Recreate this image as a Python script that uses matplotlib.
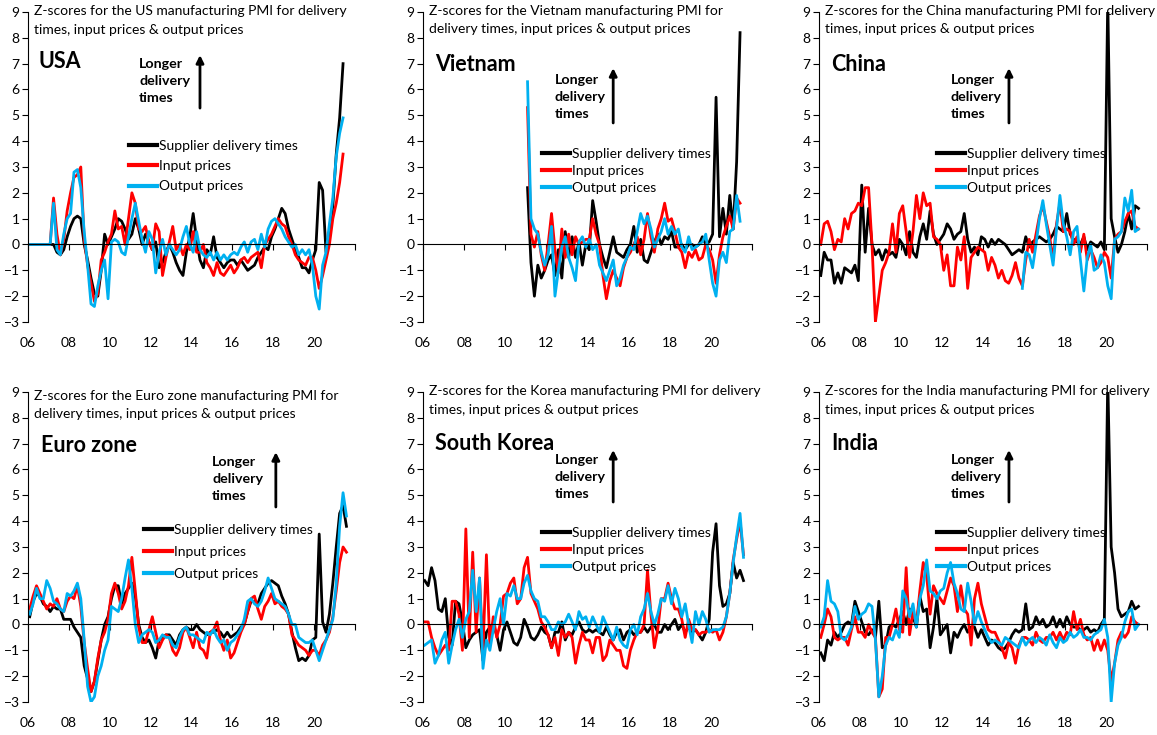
import pandas as pd
import matplotlib.pyplot as plt

plt.rcParams['font.family'] = ['Lato', 'DejaVu Sans']

# bi-monthly readings of the z-scores (Feb, Apr, Jun, Aug, Oct, Dec per row)
us_start = '2006-02'
us_delivery = [
    0, 0, 0, 0, 0, 0,
    0, 0.0, -0.3, -0.4, -0.2, 0.3,
    0.7, 1.0, 1.1, 1.0, 0.0, -0.6,
    -1.3, -1.9, -2.0, -1.0, 0.4, 0.0,
    0.3, 0.6, 1.0, 0.9, 0.6, 0.2,
    0.4, 1.0, 0.6, 0.0, 0.4, 0.1,
    -0.2, 0.1, -0.9, -0.7, -0.3, 0.0,
    -0.3, -0.7, -1.0, -1.2, -0.3, 0.3,
    1.2, 0.2, -0.6, -0.9, -0.2, -0.4,
    0.3, -0.5, -0.7, -0.9, -0.7, -0.6,
    -0.6, -0.8, -0.6, -0.8, -1.0, -0.9,
    -0.8, -0.5, -0.3, -0.1, -0.2, 0.3,
    0.6, 1.0, 1.4, 1.2, 0.6, 0.2,
    -0.2, -0.5, -0.9, -0.9, -1.1, -0.6,
    -0.2, 2.4, 2.1, -0.3, 0.5, 1.5,
    3.5, 4.9, 7.0]
us_input = [
    0, 0, 0, 0, 0, 0,
    0, 1.8, 0.4, -0.4, 0.2, 1.3,
    2.0, 2.6, 2.7, 3.0, 0.2, -0.8,
    -1.5, -2.2, -1.9, -0.6, -0.3, 0.1,
    0.4, 1.3, 0.6, 0.7, 0.0, 1.0,
    2.0, 1.6, 0.6, 0.5, 0.7, 0.1,
    -0.2, 0.8, 0.5, -1.2, -0.5, 0.1,
    0.7, -0.2, 0.0, -0.4, 0.0, -0.2,
    0.5, -0.3, -0.3, 0.0, -0.7, -0.9,
    -1.2, -0.7, -1.1, -1.2, -1.0, -0.8,
    -1.1, -0.9, -0.6, -0.5, -0.7, -0.5,
    -0.4, -0.3, -0.9, 0.0, 0.2, 0.4,
    0.7, 1.0, 0.8, 0.7, 0.3, 0.0,
    -0.4, -0.6, -0.7, -0.8, -0.5, -0.5,
    -1.0, -1.7, -1.2, -0.6, 0.0, 1.0,
    1.6, 2.4, 3.5]
us_output = [
    0, 0, 0, 0, 0, 0,
    0, 1.6, -0.2, -0.4, 0.4, 1.0,
    1.2, 2.8, 2.9, 2.2, 0.5, -0.8,
    -2.3, -2.4, -1.6, -1.0, -0.6, -2.1,
    0.1, 0.2, 0.1, -0.3, -0.4, 0.3,
    1.0, 1.6, 0.9, 0.2, -0.3, 0.5,
    0.2, -1.1, -0.3, 0.2, -0.4, 0.0,
    -0.2, -0.4, -0.2, 0.3, 0.7, 0.0,
    -0.3, 0.5, -0.2, -0.4, -0.5, -0.3,
    -0.6, -0.3, -0.6, -0.4, -0.6, -0.4,
    -0.3, -0.4, -0.1, 0.1, -0.3, 0.1,
    0.2, -0.2, 0.4, -0.1, 0.6, 0.9,
    1.0, 0.8, 0.6, 0.3, 0.1, -0.1,
    0.0, -0.4, -0.2, -0.4, -0.2, -0.8,
    -2.0, -2.5, -0.8, -0.3, 0.8, 1.8,
    3.4, 4.3, 4.9]

vn_start = '2011-02'
vn_delivery = [
    2.2, -0.7, -2.0, -0.8, -1.3, -1.0,
    -0.6, -0.4, -1.2, -0.2, -1.3, 0.5,
    -0.5, 0.3, -0.5, 0.1, -0.8, 0.0,
    -0.2, 1.7, 0.9, 0.0, -0.5, -0.9,
    -0.3, 0.3, -0.3, -0.4, -0.5, -0.2,
    0.0, 0.7, -0.3, 0.2, -0.6, -0.7,
    -0.3, 0.1, 0.4, 0.0, 0.3, 0.2,
    0.5, -0.1, -0.1, 0.0, -0.2, 0.0,
    0.0, -0.1, 0.0, 0.3, 0.0, 0.1,
    0.4, 5.7, 0.3, 1.4, 0.4, 1.9,
    0.6, 3.2, 8.2]
vn_input = [
    5.3, 0.4, -0.1, 0.5, -0.4, -1.0,
    0.0, 1.2, -0.2, -1.1, 0.6, -0.5,
    0.4, -0.4, 0.3, 0.0, 0.1, 0.2,
    0.2, 1.0, 0.4, 0.0, -1.2, -2.1,
    -1.4, -1.0, -1.3, -1.6, -0.9, -0.5,
    -0.3, 0.0, 0.3, -0.4, 0.2, 1.2,
    0.3, -0.3, 0.6, 1.0, 1.6, 0.9,
    1.0, 0.5, -0.1, -0.3, -0.9, -0.3,
    -0.5, -0.2, -0.6, -0.5, 0.0, -0.2,
    -0.6, -1.5, -0.4, 0.3, 0.7, 1.1,
    0.6, 1.8, 1.6]
vn_output = [
    6.3, 1.0, 0.6, 0.4, -0.3, -0.8,
    -0.4, 0.7, -2.0, -1.0, -0.1, 0.3,
    -0.5, -0.9, -1.4, 0.1, 0.3, -0.1,
    0.2, -0.2, 0.0, -0.8, -1.1, -1.4,
    -1.0, -0.6, -1.6, -1.3, -0.8, -0.5,
    -0.1, -0.2, 0.5, 1.2, 0.8, 1.1,
    0.6, -0.1, 0.2, 0.5, 1.0, 0.4,
    0.7, 0.4, 0.6, -0.1, -0.3, 0.3,
    -0.2, -0.1, 0.0, 0.1, 0.4, -0.6,
    -1.5, -2.0, -0.6, -0.3, -0.7, 0.5,
    0.6, 1.9, 0.9]

cn_start = '2006-02'
cn_output_start = '2015-12'
cn_delivery = [
    -1.2, -0.3, -0.6, -0.6, -1.5, -1.1,
    -1.5, -0.9, -1.0, -1.1, -0.8, -1.4,
    2.3, -0.3, 1.4, 0.0, -0.4, -0.2,
    -0.6, -0.2, -0.4, -0.3, -0.5, 0.2,
    0.0, -0.4, 0.5, -0.3, -0.5, 0.3,
    0.8, 0.2, 1.3, 0.4, 0.0, 0.2,
    0.4, 0.8, 0.6, 0.2, 0.4, 0.5,
    1.2, 0.2, -0.3, -0.1, -0.4, 0.3,
    0.2, -0.1, 0.2, 0.0, 0.2, 0.1,
    0.0, -0.2, -0.4, -0.3, -0.2, -0.3,
    0.3, -0.1, 0.1, 0.2, 0.3, 0.2,
    0.1, 0.2, 0.4, 0.7, 0.6, 0.5,
    1.2, 0.4, 0.2, 0.1, 0.0, 0.3,
    -0.2, 0.1, 0.0, -0.1, 0.1, -0.2,
    9.5, 1.0, 0.3, -0.3, 0.0, 0.5,
    1.2, 0.6, 1.5, 1.4]
cn_input = [
    0.0, 0.8, 0.9, 0.5, -0.2, 0.2,
    0.1, 1.0, 0.6, 1.2, 1.3, 1.6,
    1.5, 2.2, 2.2, 0.0, -3.0, -2.0,
    -1.0, -0.7, -0.3, 0.8, -0.3, 1.2,
    1.5, 0.5, -0.5, 0.5, 1.9, 1.0,
    2.0, 1.5, 1.6, 0.3, 0.2, 0.0,
    -1.0, -0.4, -1.6, -1.6, -0.1, -0.6,
    0.3, -1.7, -0.5, -0.3, -0.1, -0.2,
    -0.3, -1.0, -0.5, -0.8, -1.3, -1.0,
    -1.4, -1.5, -1.2, -0.7, -1.3, -1.6,
    -0.6, 0.2, -0.3, 0.4, 1.1, 1.5,
    0.9, 0.3, -0.6, 0.8, 1.6, 0.5,
    0.6, 0.5, 0.0, 0.3, -0.3, 0.4,
    -0.6, -0.2, -0.5, -0.9, -0.7, -0.3,
    -0.5, -1.3, 0.2, 0.4, 0.5, 0.9,
    1.2, 1.3, 0.7, 0.6]
cn_output = [
    -1.7,
    -0.3, -0.4, -0.9, 0.0, 1.0, 1.7,
    0.8, 0.0, -0.8, 0.6, 1.9, 0.8,
    0.3, -0.4, 0.5, 0.7, -0.6, -1.8,
    -0.5, 0.0, -1.0, -0.9, -0.4, -0.7,
    -1.6, -2.1, 0.2, 0.3, 0.5, 1.8,
    1.3, 2.1, 0.5, 0.6]

ez_start = '2006-02'
ez_delivery = [
    0.3, 0.9, 1.2, 1.1, 0.8, 0.7,
    0.5, 0.7, 0.6, 0.6, 0.2, 0.2,
    0.2, -0.1, -0.3, -0.5, -1.6, -2.1,
    -2.6, -2.2, -1.4, -0.6, 0.0, 0.3,
    1.0, 1.5, 1.5, 0.8, 1.2, 1.4,
    1.6, 1.1, 0.0, -0.5, -0.7, -0.6,
    -0.9, -1.3, -0.6, -0.5, -0.4, -0.4,
    -0.6, -0.8, -0.4, -0.2, -0.1, -0.2,
    -0.2, 0.0, -0.2, -0.3, -0.4, -0.3,
    -0.3, -0.2, -0.3, -0.5, -0.3, -0.5,
    -0.4, -0.3, -0.1, 0.0, 0.5, 0.9,
    0.9, 0.8, 1.2, 1.4, 1.6, 1.7,
    1.6, 1.5, 1.1, 0.8, 0.4, -0.3,
    -0.9, -1.4, -1.3, -1.4, -1.2, -0.6,
    -0.5, 3.5, 0.1, -0.3, 0.4, 1.6,
    3.0, 4.3, 4.6, 3.8]
ez_input = [
    0.6, 1.1, 1.5, 1.2, 0.9, 0.6,
    0.8, 0.7, 1.0, 0.6, 0.5, 0.9,
    1.1, 1.0, 1.5, 0.7, -0.7, -1.7,
    -2.6, -2.2, -1.3, -0.6, -0.3, 0.2,
    1.2, 1.6, 1.2, 0.6, 0.9, 1.5,
    2.6, 1.3, -0.1, -0.7, -0.7, -0.2,
    0.3, -0.3, -0.9, -0.6, -0.4, -0.5,
    -1.0, -1.2, -0.9, -0.3, -0.1, -0.5,
    -0.9, -0.3, -0.9, -1.0, -1.3, -0.3,
    -0.2, 0.1, -0.6, -1.0, -0.6, -1.3,
    -1.1, -0.7, -0.3, 0.0, 0.5, 1.0,
    1.1, 0.6, 0.2, 0.7, 0.9, 1.2,
    0.8, 0.9, 0.7, 0.6, 0.4, -0.4,
    -0.6, -0.8, -0.9, -1.0, -1.2, -1.0,
    -1.0, -1.2, -0.8, -0.6, -0.3, 0.3,
    1.3, 2.4, 3.0, 2.8]
ez_output = [
    0.4, 0.8, 1.4, 1.0, 1.0, 1.7,
    1.4, 0.9, 0.8, 0.6, 0.5, 1.2,
    1.1, 1.3, 1.6, 1.0, -0.6, -2.4,
    -3.0, -2.8, -2.0, -1.6, -1.0, -0.6,
    0.7, 0.6, 0.5, 1.0, 1.8, 2.5,
    1.4, 0.0, -0.7, -0.4, -0.3, -0.2,
    -0.3, -0.7, -0.6, -0.4, -0.5, -0.5,
    -0.8, -0.9, -0.5, -0.2, -0.1, -0.4,
    -0.4, -0.5, -0.6, -0.7, -0.3, -0.4,
    -0.2, -0.5, -0.7, -0.6, -1.0, -0.7,
    -0.6, -0.4, -0.2, 0.2, 0.9, 1.0,
    0.8, 0.7, 0.9, 1.3, 1.8, 1.4,
    1.0, 0.9, 0.8, 0.7, 0.4, 0.0,
    0.0, -0.5, -0.6, -0.7, -0.7, -0.6,
    -1.0, -1.4, -1.0, -0.6, -0.2, 0.2,
    1.6, 3.8, 5.1, 4.2]

kr_start = '2006-02'
kr_delivery = [
    1.7, 1.5, 2.2, 1.7, 0.6, 0.5,
    1.0, -0.5, -0.8, 0.9, 0.8, 0.1,
    -0.9, -0.6, -0.4, -0.3, -0.2, -1.4,
    -0.3, -0.1, 0.0, -0.4, -1.0, -0.2,
    0.1, -0.3, -0.7, -0.8, -0.5, 0.2,
    -0.1, -0.5, -0.6, -0.4, -0.1, -0.3,
    -0.4, -0.9, -0.3, -0.3, 0.1, -0.6,
    -0.3, -0.4, -0.1, 0.1, -0.2, -0.3,
    -0.2, -0.3, -0.2, -0.3, -0.4, -0.1,
    -0.4, -0.6, -0.3, -0.2, -0.6, -0.3,
    -0.2, -0.4, -0.3, -0.3, -0.1, -0.3,
    -0.1, 0.0, -0.3, -0.3, 0.0, -0.2,
    0.0, 0.2, -0.2, 0.0, -0.3, -0.1,
    -0.3, -0.2, -0.4, -0.6, -0.3, 0.2,
    2.8, 3.9, 1.5, 0.7, 0.8, 1.2,
    2.4, 1.8, 2.1, 1.7]
kr_input = [
    0.1, 0.1, -0.5, -0.9, -1.2, -1.0,
    -0.8, -1.0, 0.9, 0.9, 0.4, -1.0,
    3.7, -0.5, 2.8, -0.3, 1.8, -1.0,
    2.7, -0.8, 0.3, -0.5, 0.0, 1.1,
    1.2, 1.6, 1.8, 0.8, 1.0, 2.2,
    2.6, 1.2, 0.9, 0.6, 0.1, -0.1,
    -0.4, -0.9, -0.5, -1.2, -0.2, -0.5,
    -0.3, -0.5, -1.5, -0.8, -0.3, -0.6,
    -0.6, -1.1, -0.5, -0.5, -1.4, -1.2,
    -0.6, -0.8, -1.0, -1.0, -1.6, -1.7,
    -1.0, -0.6, -0.3, -0.3, 0.0, 2.1,
    0.4, -0.9, -0.2, 1.0, 1.0, 1.6,
    1.0, 0.6, 0.6, 0.2, -0.5, 0.2,
    -0.2, -0.2, -0.4, -0.3, -0.3, -0.2,
    -0.3, -0.2, -0.6, -0.3, 0.3, 1.2,
    2.5, 3.3, 4.0, 2.7]
kr_output = [
    -0.8, -0.7, -0.6, -1.5, -1.2, -0.6,
    -0.3, -1.5, -0.8, -0.2, 0.2, -0.5,
    0.2, 0.5, 2.1, 0.5, 1.8, -1.7,
    -0.6, -1.0, -0.2, 0.5, 1.0, 0.0,
    1.2, 1.1, 1.5, 1.0, 1.0, 1.6,
    1.9, 1.3, 1.0, 0.9, 0.3, 0.3,
    0.1, -0.2, -0.2, 0.1, 0.0, 0.1,
    0.4, 0.1, -0.2, 0.5, 0.2, 0.3,
    -0.1, 0.3, 0.0, -0.3, 0.3, 0.0,
    -0.3, -0.6, -0.1, -0.6, -0.8, -0.9,
    -0.2, 0.0, -0.4, 0.3, 0.6, 1.2,
    0.5, 0.0, 0.4, 1.0, 0.9, 1.5,
    0.8, 1.4, 1.0, 0.3, 0.8, 0.0,
    -0.7, 0.5, 0.0, 0.5, 0.2, -0.3,
    -0.2, -0.2, -0.2, -0.1, 0.3, 1.2,
    2.4, 3.4, 4.3, 2.6]

in_start = '2006-02'
in_delivery = [
    -1.1, -1.4, -0.6, -0.8, -0.3, -0.5,
    -0.3, 0.0, 0.1, 0.0, 0.9, 0.5,
    0.1, -0.3, -0.4, -0.2, -0.5, 0.9,
    -0.9, -0.8, -0.1, 0.0, -0.1, 0.2,
    0.5, 0.0, 0.6, 0.3, -0.1, 1.1,
    0.5, 0.6, -0.9, -0.1, 1.0, -0.4,
    -0.2, 0.0, -1.1, -0.3, -0.5, -0.2,
    0.0, -0.3, -0.1, -0.1, -0.5, -0.2,
    -0.5, -0.8, -0.6, -0.7, -0.9, -1.0,
    -0.9, -0.7, -0.4, -0.2, -0.3, -0.2,
    0.8, -0.2, -0.1, 0.3, 0.0, 0.2,
    -0.1, 0.0, 0.3, -0.1, 0.2, -0.1,
    0.3, 0.0, -0.1, -0.1, -0.2, -0.2,
    -0.1, -0.3, -0.2, -0.3, 0.0, 0.2,
    9.5, 3.0, 2.0, 0.6, 0.3, 0.4,
    0.5, 0.9, 0.6, 0.7]
in_input = [
    -0.5, 0.0, 0.6, 0.3, -0.5, -0.6,
    -0.5, -0.5, -0.8, -0.2, 0.3, -0.3,
    -0.3, -0.5, 0.0, -0.3, -0.5, -2.8,
    -2.5, -0.5, -0.5, 0.0, 0.6, -0.2,
    -0.3, 2.2, -0.4, 0.5, 0.0, 1.3,
    2.4, 1.9, 0.4, 1.5, 1.2, 1.0,
    0.8, 1.3, 1.8, 1.5, 0.5, 1.5,
    0.6, 0.4, -0.8, 1.0, 1.6, 0.8,
    0.3, -0.2, -0.3, -0.3, -0.6, -0.9,
    -1.3, -0.7, -0.9, -1.5, -0.8, -0.5,
    -0.5, -0.6, -0.8, -0.3, -0.6, -0.7,
    -0.5, -0.5, -0.3, -0.6, -0.3, -0.6,
    -0.3, -0.4, 0.5, -0.2, 0.2, -0.4,
    -0.6, -0.5, -1.0, -0.6, -1.0, -0.6,
    -1.0, -2.2, -1.5, -0.6, -0.3, -0.5,
    -0.3, 0.3, 0.1, 0.0]
in_output = [
    -0.1, 0.3, 1.7, 0.9, 0.8, 0.5,
    -0.5, -0.6, -0.4, -0.1, 0.7, 0.2,
    0.4, 0.5, 0.8, 0.7, -0.6, -2.8,
    -2.0, -0.8, -0.5, -0.6, -0.2, -0.5,
    1.3, 1.0, 0.3, 0.8, -0.1, 1.0,
    1.5, 2.5, 1.3, 1.2, 1.0, 1.3,
    1.4, 2.0, 2.4, 1.6, 1.2, 0.6,
    0.5, 1.6, 0.9, 0.0, 0.5, 0.1,
    -0.2, -0.5, -0.7, -0.6, -0.7, -0.8,
    -0.5, -0.6, -0.7, -0.8, -0.9, -0.5,
    -0.8, -0.6, -0.5, -0.7, -0.5, -0.6,
    -0.8, -0.4, -0.7, -0.9, -0.5, -0.7,
    -0.6, -0.3, -0.5, -0.4, -0.2, -0.5,
    -0.5, -0.6, -0.4, -0.3, -0.2, 0.2,
    -0.5, -3.0, -1.5, -0.8, -0.5, 0.1,
    0.5, 0.6, -0.2, 0.0]

labels = ['Supplier delivery times', 'Input prices', 'Output prices']
colors = ['black', '#FF0000', '#00B0F0']
year_ticks = list(range(2006, 2023, 2))
year_labels = ['06', '08', '10', '12', '14', '16', '18', '20']

panels = [
    dict(name='USA', who='US',
         series=[(us_start, us_delivery), (us_start, us_input), (us_start, us_output)],
         rect=[0.0242, 0.5619, 0.2826, 0.4218], title_y=1.021, title_break=True,
         name_xy=(0.032, 0.819), note_xy=(0.34, 0.852), arrow=(0.526, 0.69, 0.861),
         leg_xy=(0.309, 0.563), leg_sp=0.59),
    dict(name='Vietnam', who='Vietnam',
         series=[(vn_start, vn_delivery), (vn_start, vn_input), (vn_start, vn_output)],
         rect=[0.3656, 0.5619, 0.2844, 0.4218], title_y=1.023, title_break=False,
         name_xy=(0.036, 0.81), note_xy=(0.401, 0.801), arrow=(0.578, 0.642, 0.819),
         leg_xy=(0.362, 0.538), leg_sp=0.37),
    dict(name='China', who='China',
         series=[(cn_start, cn_delivery), (cn_start, cn_input), (cn_output_start, cn_output)],
         rect=[0.7079, 0.5619, 0.2835, 0.4218], title_y=1.023, title_break=True,
         name_xy=(0.037, 0.81), note_xy=(0.402, 0.801), arrow=(0.579, 0.642, 0.819),
         leg_xy=(0.36, 0.538), leg_sp=0.37),
    dict(name='Euro zone', who='Euro zone',
         series=[(ez_start, ez_delivery), (ez_start, ez_input), (ez_start, ez_output)],
         rect=[0.0242, 0.0449, 0.2826, 0.4218], title_y=1.007, title_break=False,
         name_xy=(0.04, 0.806), note_xy=(0.563, 0.794), arrow=(0.758, 0.629, 0.806),
         leg_xy=(0.355, 0.551), leg_sp=0.72),
    dict(name='South Korea', who='Korea',
         series=[(kr_start, kr_delivery), (kr_start, kr_input), (kr_start, kr_output)],
         rect=[0.3656, 0.0449, 0.2844, 0.4218], title_y=1.022, title_break=True,
         name_xy=(0.036, 0.813), note_xy=(0.401, 0.801), arrow=(0.578, 0.645, 0.813),
         leg_xy=(0.362, 0.541), leg_sp=0.37),
    dict(name='India', who='India',
         series=[(in_start, in_delivery), (in_start, in_input), (in_start, in_output)],
         rect=[0.7079, 0.0449, 0.2835, 0.4218], title_y=1.022, title_break=True,
         name_xy=(0.037, 0.813), note_xy=(0.402, 0.801), arrow=(0.579, 0.645, 0.813),
         leg_xy=(0.36, 0.541), leg_sp=0.37),
]


def to_years(start, n):
    dates = pd.date_range(start, periods=n, freq='2MS')
    return dates.year + (dates.month - 1) / 12


fig = plt.figure(figsize=(11.57, 7.35), dpi=100)

for p in panels:
    ax = fig.add_axes(p['rect'])
    for (start, vals), lab, col in zip(p['series'], labels, colors):
        ax.plot(to_years(start, len(vals)), vals, color=col, lw=2.0, label=lab)

    ax.set_xlim(2006, 2022)
    ax.set_ylim(-3, 9)
    ax.set_yticks(range(-3, 10))
    ax.spines['top'].set_visible(False)
    ax.spines['right'].set_visible(False)
    ax.spines['bottom'].set_position(('data', 0))
    ax.set_xticks(year_ticks)
    ax.tick_params(axis='x', direction='out', length=4, labelbottom=False)
    ax.tick_params(axis='y', direction='out', length=4, pad=2, labelsize=10)

    sec = ax.secondary_xaxis('bottom')
    sec.set_xticks(year_ticks[:-1])
    sec.set_xticklabels(year_labels)
    sec.tick_params(length=0, pad=11, labelsize=10)
    sec.spines['bottom'].set_visible(False)

    if p['title_break']:
        title = (f"Z-scores for the {p['who']} manufacturing PMI for delivery\n"
                 "times, input prices & output prices")
    else:
        title = (f"Z-scores for the {p['who']} manufacturing PMI for\n"
                 "delivery times, input prices & output prices")
    ax.text(0.017, p['title_y'], title, transform=ax.transAxes, fontsize=10,
            va='top', ha='left', linespacing=1.65, zorder=1)
    ax.text(*p['name_xy'], p['name'], transform=ax.transAxes, fontsize=15.5,
            fontweight='bold', va='baseline', ha='left')
    ax.text(*p['note_xy'], 'Longer\ndelivery\ntimes', transform=ax.transAxes,
            fontsize=10.3, fontweight='bold', va='top', ha='left', linespacing=1.5)
    ax_x, y0, y1 = p['arrow']
    ax.annotate('', xy=(ax_x, y1), xytext=(ax_x, y0), xycoords='axes fraction',
                arrowprops=dict(arrowstyle='-|>', color='black', lw=2.0,
                                mutation_scale=11, shrinkA=0, shrinkB=0))
    lx, ly = p['leg_xy']
    ax.legend(loc='upper left', bbox_to_anchor=(lx, ly + 0.024), frameon=False,
              fontsize=10, handlelength=2.0, handletextpad=0.15, borderpad=0,
              borderaxespad=0, labelspacing=p['leg_sp'])
    for line in ax.get_legend().get_lines():
        line.set_linewidth(3)

fig.savefig('out.png', dpi=100, facecolor='white')
